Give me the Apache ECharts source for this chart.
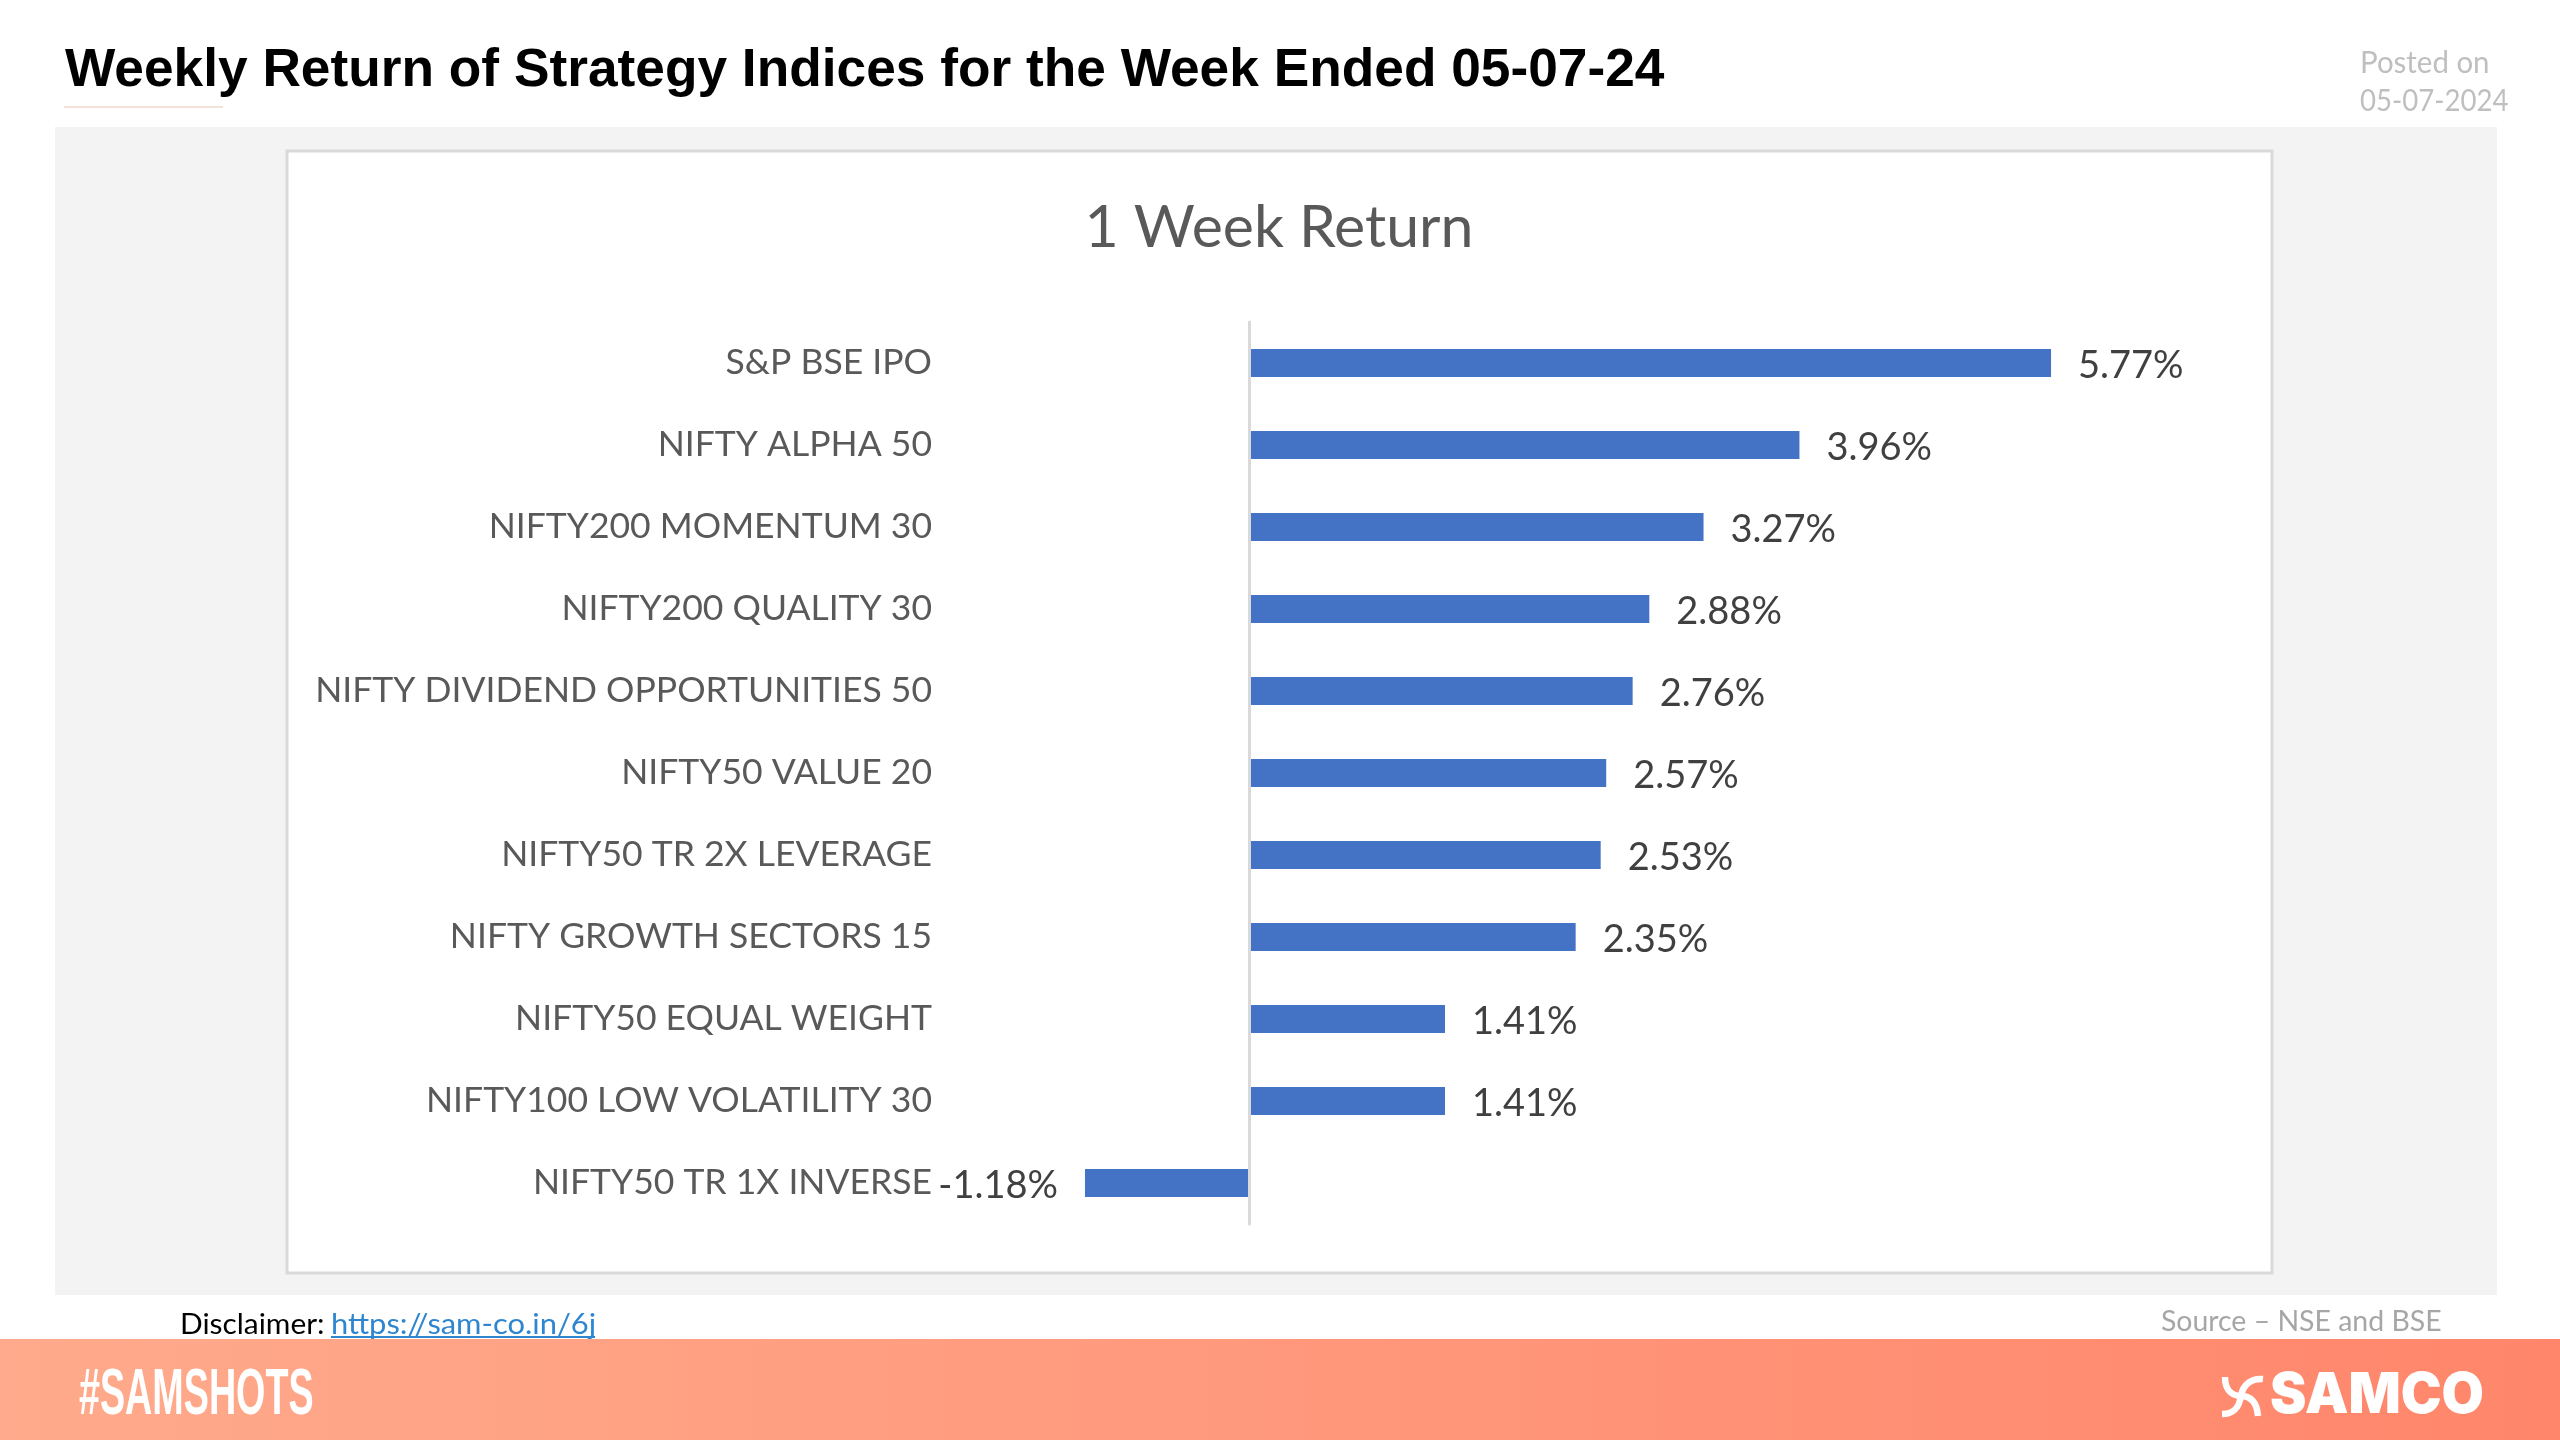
<!DOCTYPE html>
<html>
<head>
<meta charset="utf-8">
<title>Weekly Return of Strategy Indices</title>
<script src="https://cdn.jsdelivr.net/npm/echarts@6/dist/echarts.min.js"></script>
<style>
  html, body { margin: 0; padding: 0; background: #ffffff; }
  #echarts { width: 2560px; height: 1440px; }
</style>
</head>
<body>
<div id="echarts"></div>
<script>
var names = [
  'S&P BSE IPO', 'NIFTY ALPHA 50', 'NIFTY200 MOMENTUM 30', 'NIFTY200 QUALITY 30',
  'NIFTY DIVIDEND OPPORTUNITIES 50', 'NIFTY50 VALUE 20', 'NIFTY50 TR 2X LEVERAGE',
  'NIFTY GROWTH SECTORS 15', 'NIFTY50 EQUAL WEIGHT', 'NIFTY100 LOW VOLATILITY 30',
  'NIFTY50 TR 1X INVERSE'
];
var values = [5.77, 3.96, 3.27, 2.88, 2.76, 2.57, 2.53, 2.35, 1.41, 1.41, -1.18];

var chart = echarts.init(document.getElementById('echarts'));

function text(x, y, str, font, fill, sx) {
  return {
    type: 'text', silent: true, x: x, y: y, scaleX: sx || 1,
    style: { text: str, font: font, fill: fill, align: 'left', verticalAlign: 'middle' }
  };
}
function box(x, y, w, h, fill, stroke, lw) {
  return {
    type: 'rect', silent: true,
    shape: { x: x, y: y, width: w, height: h },
    style: { fill: fill, stroke: stroke || null, lineWidth: lw || 0 }
  };
}
function rule(x1, x2, y, color, lw) {
  return {
    type: 'line', silent: true,
    shape: { x1: x1, y1: y, x2: x2, y2: y },
    style: { stroke: color, lineWidth: lw }
  };
}
//one stroke of the samco mark
function swirl(x1, y1, cx1, cy1, cx2, cy2, x2, y2) {
  return {
    type: 'bezierCurve', silent: true,
    shape: { x1: x1, y1: y1, cpx1: cx1, cpy1: cy1, cpx2: cx2, cpy2: cy2, x2: x2, y2: y2 },
    style: { fill: null, stroke: '#ffffff', lineWidth: 6.5 }
  };
}

//negative bars carry their label on the left
var barData = values.map(function (v) {
  return { value: v, label: { position: v < 0 ? 'left' : 'right' } };
});

chart.setOption({
  animation: false,
  backgroundColor: '#ffffff',
  title: {
    text: '1 Week Return',
    left: 1274,
    top: 193,
    textAlign: 'center',
    textStyle: { color: '#595959', fontFamily: 'Lato', fontSize: 59, fontWeight: 'normal' }
  },
  grid: { left: 971, top: 322, width: 1251, height: 902 },
  xAxis: {
    type: 'value', min: -2, max: 7, show: false
  },
  yAxis: {
    type: 'category',
    inverse: true,
    z: 3,
    data: names,
    axisTick: { show: false },
    axisLine: { onZero: true, lineStyle: { color: '#d9d9d9', width: 3 } },
    axisLabel: {
      margin: 39, color: '#595959', fontFamily: 'Lato', fontSize: 35.5, fontWeight: 'normal'
    }
  },
  series: [{
    type: 'bar',
    data: barData,
    barWidth: 28,
    itemStyle: { color: '#4472c4' },
    label: {
      show: true,
      position: 'right',
      distance: 27,
      offset: [0, 3],
      color: '#404040',
      fontFamily: 'Lato',
      fontSize: 38,
      formatter: function (p) { return p.value.toFixed(2) + '%'; }
    }
  }],
  graphic: [
    box(55, 127, 2442, 1168, '#f3f3f3'),
    box(287, 151, 1985, 1122, '#ffffff', '#d9d9d9', 3),
    text(65, 71, 'Weekly Return of Strategy Indices for the Week Ended 05-07-24', 'bold 53px "Liberation Sans"', '#000000', 1.005),
    rule(64, 223, 107, '#eed8cc', 1.5),
    text(2360, 63, 'Posted on', '31px Lato', '#bfbfbf', 0.95),
    text(2360, 101, '05-07-2024', '31px Lato', '#bfbfbf', 0.89),
    text(180, 1325, 'Disclaimer:', '29px Lato', '#000000', 1.03),
    text(331, 1325, 'https://sam-co.in/6j', '29px Lato', '#2e86d0', 1.065),
    rule(331, 595, 1337, '#2e86d0', 2),
    text(2161, 1322, 'Source \u2013 NSE and BSE', '29px Lato', '#a6a6a6', 0.98),
    {
      type: 'rect', silent: true,
      shape: { x: 0, y: 1339, width: 2560, height: 101 },
      style: {
        fill: new echarts.graphic.LinearGradient(0, 0, 1, 0, [
          { offset: 0, color: '#ffaa8c' },
          { offset: 1, color: '#ff866b' }
        ])
      }
    },
    text(79, 1396, '#SAMSHOTS', 'bold 65px "Liberation Sans"', '#ffffff', 0.58),
    swirl(2225, 1377, 2225, 1388, 2230, 1396, 2241, 1396),
    swirl(2241, 1396, 2252, 1396, 2257, 1404, 2258, 1416),
    swirl(2263, 1379, 2252, 1378, 2243, 1384, 2241, 1396),
    swirl(2241, 1396, 2239, 1408, 2234, 1414, 2222, 1414),
    text(2270, 1396, 'SAMCO', '900 57px Inter', '#ffffff', 0.96)
  ]
});
</script>
</body>
</html>
